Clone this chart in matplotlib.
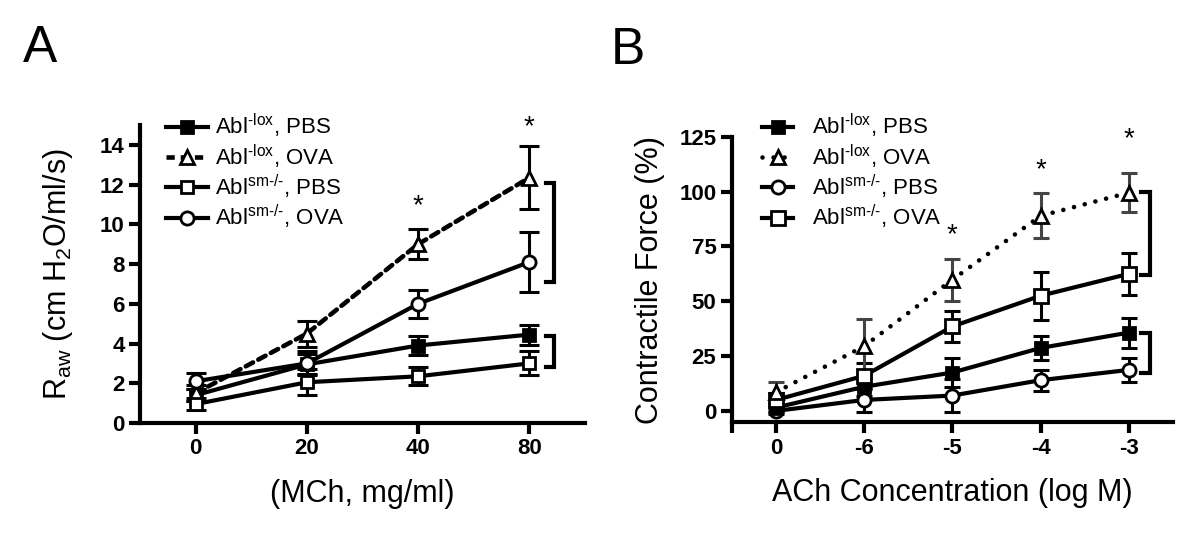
import matplotlib
matplotlib.use("Agg")
import matplotlib.pyplot as plt
from matplotlib.lines import Line2D

plt.rcParams['font.family'] = ['Liberation Sans', 'DejaVu Sans']
plt.rcParams['mathtext.default'] = 'regular'

# ---------------- data ----------------
a_xlabels = ['0', '20', '40', '80']
a_lox_pbs = [1.4, 2.95, 3.9, 4.45]
a_lox_pbs_err = [0.3, 0.5, 0.5, 0.5]
a_lox_ova = [1.5, 4.5, 9.0, 12.35]
a_lox_ova_err = [0.4, 0.65, 0.75, 1.6]
a_sm_pbs = [0.95, 2.05, 2.35, 3.0]
a_sm_pbs_err = [0.3, 0.65, 0.45, 0.6]
a_sm_ova = [2.1, 3.0, 6.0, 8.1]
a_sm_ova_err = [0.4, 0.6, 0.7, 1.5]
a_star_pos = [2, 3]
a_star_y = [10.9, 14.9]
a_brackets = [(7.1, 12.1), (2.8, 4.4)]

b_xlabels = ['0', '-6', '-5', '-4', '-3']
b_lox_pbs = [1.5, 11.0, 17.5, 28.7, 35.7]
b_lox_pbs_err = [2.0, 4.0, 6.5, 5.5, 6.8]
b_lox_ova = [8.5, 29.5, 59.8, 88.9, 99.5]
b_lox_ova_err = [4.8, 12.5, 9.5, 10.3, 8.8]
b_sm_pbs = [0.0, 5.0, 7.0, 14.0, 18.7]
b_sm_pbs_err = [1.5, 5.5, 7.5, 4.8, 5.5]
b_sm_ova = [5.0, 16.0, 38.5, 52.5, 62.5]
b_sm_ova_err = [3.0, 6.0, 7.0, 11.0, 9.5]
b_star_pos = [2, 3, 4]
b_star_y = [80.0, 109.5, 124.0]
b_brackets = [(62.0, 100.0), (17.5, 35.7)]

H = '\u2010'
lab_lox_pbs = 'Abl$^{' + H + 'lox}$, PBS'
lab_lox_ova = 'Abl$^{' + H + 'lox}$, OVA'
lab_sm_pbs = 'Abl$^{sm' + H + '/' + H + '}$, PBS'
lab_sm_ova = 'Abl$^{sm' + H + '/' + H + '}$, OVA'

fig = plt.figure(figsize=(12, 5.57), dpi=100)
axA = fig.add_axes([0.1167, 0.2406, 0.3708, 0.535])
axB = fig.add_axes([0.6098, 0.2418, 0.3677, 0.5128])

LW = 3.0
MEW = 2.0
ELW = 2.2


def series(ax, y, err, marker, fc, ls, ms, ecolor='black', cap=6, z=3):
    x = list(range(len(y)))
    ax.errorbar(x, y, yerr=err, fmt='none', ecolor=ecolor, elinewidth=ELW,
                capsize=cap, capthick=ELW, zorder=z)
    line, = ax.plot(x, y, color='black', lw=LW if ls == '-' else 3.3,
                    linestyle=ls, marker=marker, ms=ms, mfc=fc, mec='black',
                    mew=MEW, zorder=z + 0.5, dash_capstyle='round')
    return line


def style_axes(ax):
    for s in ['top', 'right']:
        ax.spines[s].set_visible(False)
    for s in ['left', 'bottom']:
        ax.spines[s].set_linewidth(3)
    ax.tick_params(axis='both', which='major', length=8, width=3,
                   labelsize=16, pad=3)
    for t in ax.get_xticklabels() + ax.get_yticklabels():
        t.set_fontweight('bold')


# ---------------- Panel A ----------------
dashA = (0, (1.8, 1.3))
series(axA, a_lox_pbs, a_lox_pbs_err, 's', 'black', '-', 8.5, cap=7)
series(axA, a_lox_ova, a_lox_ova_err, '^', 'white', dashA, 10, cap=7)
series(axA, a_sm_pbs, a_sm_pbs_err, 's', 'white', '-', 9, cap=7)
series(axA, a_sm_ova, a_sm_ova_err, 'o', 'white', '-', 9.5, cap=7)
axA.set_xlim(-0.5, 3.5)
axA.set_ylim(0, 15)
axA.set_xticks(range(len(a_xlabels)))
axA.set_xticklabels(a_xlabels)
axA.set_yticks([0, 2, 4, 6, 8, 10, 12, 14])
style_axes(axA)
axA.set_ylabel('R$_{aw}$ (cm H$_{2}$O/ml/s)', fontsize=22, labelpad=18)
axA.set_xlabel('(MCh, mg/ml)', fontsize=22, labelpad=14)
for p, yv in zip(a_star_pos, a_star_y):
    axA.text(p, yv, '*', ha='center', va='center', fontsize=20, clip_on=False)
for lo, hi in a_brackets:
    axA.plot([3.145, 3.225, 3.225, 3.145], [hi, hi, lo, lo], color='black',
             lw=3, clip_on=False, solid_joinstyle='miter')

hA = [Line2D([], [], color='black', lw=LW, marker='s', ms=8.5, mfc='black', mec='black', mew=MEW),
      Line2D([], [], color='black', lw=3.3, ls=dashA, marker='^', ms=10, mfc='white', mec='black', mew=MEW),
      Line2D([], [], color='black', lw=LW, marker='s', ms=9, mfc='white', mec='black', mew=MEW),
      Line2D([], [], color='black', lw=LW, marker='o', ms=9.5, mfc='white', mec='black', mew=MEW)]
fig.legend(hA, [lab_lox_pbs, lab_lox_ova, lab_sm_pbs, lab_sm_ova],
           loc='upper left', bbox_to_anchor=(166 / 1200, 1 - 112 / 557),
           frameon=False, fontsize=16, handlelength=1.9, handletextpad=0.3,
           labelspacing=0.1, borderpad=0, borderaxespad=0)

# ---------------- Panel B ----------------
dotB = (0, (0.01, 2.4))
grey = '#444444'
series(axB, b_sm_pbs, b_sm_pbs_err, 'o', 'white', '-', 9.5, cap=5.5)
series(axB, b_lox_pbs, b_lox_pbs_err, 's', 'black', '-', 8.5, cap=5.5)
series(axB, b_sm_ova, b_sm_ova_err, 's', 'white', '-', 9.5, cap=5.5)
series(axB, b_lox_ova, b_lox_ova_err, '^', 'white', dotB, 10, ecolor=grey, cap=5.5)
axB.set_xlim(-0.5, 4.5)
axB.set_ylim(-5.2, 125)
axB.set_xticks(range(len(b_xlabels)))
axB.set_xticklabels(b_xlabels)
axB.set_xticks([-0.5], minor=True)
axB.tick_params(axis='x', which='minor', length=8, width=3)
axB.set_yticks([0, 25, 50, 75, 100, 125])
style_axes(axB)
axB.set_ylabel('Contractile Force (%)', fontsize=22, labelpad=10)
axB.set_xlabel('ACh Concentration (log M)', fontsize=22, labelpad=14)
for p, yv in zip(b_star_pos, b_star_y):
    axB.text(p, yv, '*', ha='center', va='center', fontsize=20, clip_on=False)
for lo, hi in b_brackets:
    axB.plot([4.14, 4.24, 4.24, 4.14], [hi, hi, lo, lo], color='black',
             lw=3, clip_on=False, solid_joinstyle='miter')

hB = [Line2D([], [], color='black', lw=LW, marker='s', ms=8.5, mfc='black', mec='black', mew=MEW),
      Line2D([], [], color='black', lw=3.3, ls=dotB, marker='^', ms=10, mfc='white', mec='black', mew=MEW, dash_capstyle='round'),
      Line2D([], [], color='black', lw=LW, marker='o', ms=9.5, mfc='white', mec='black', mew=MEW),
      Line2D([], [], color='black', lw=LW, marker='s', ms=9.5, mfc='white', mec='black', mew=MEW)]
fig.legend(hB, [lab_lox_pbs, lab_lox_ova, lab_sm_pbs, lab_sm_ova],
           loc='upper left', bbox_to_anchor=(762 / 1200, 1 - 112 / 557),
           frameon=False, fontsize=16, handlelength=1.4, handletextpad=0.85,
           labelspacing=0.1, borderpad=0, borderaxespad=0)

# panel letters
fig.text(40 / 1200, 1 - 48 / 557, 'A', fontsize=37, ha='center', va='center')
fig.text(628 / 1200, 1 - 50 / 557, 'B', fontsize=37, ha='center', va='center')

fig.savefig('out.png', dpi=100)
